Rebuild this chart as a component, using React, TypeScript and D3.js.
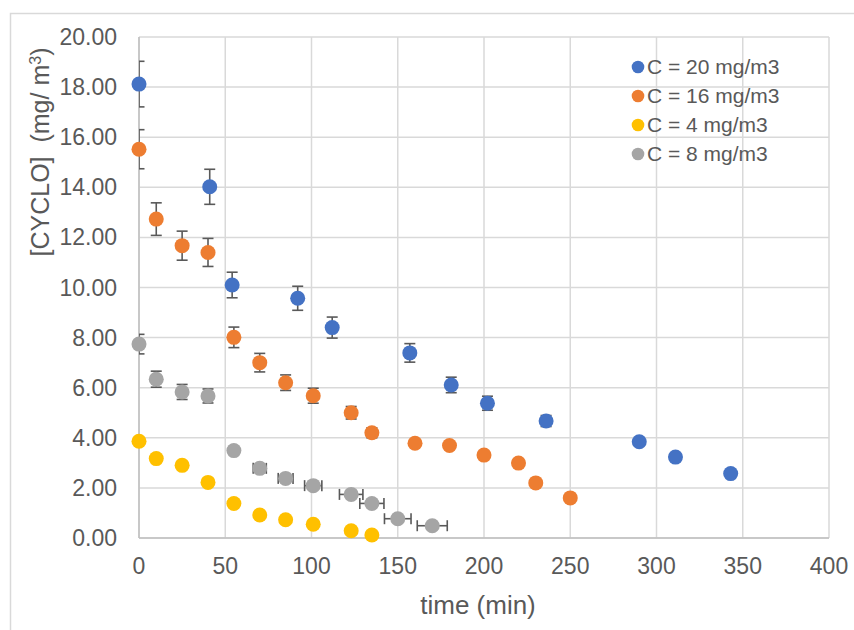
import React from "react";
import * as d3 from "d3";

const xTicks = [0, 50, 100, 150, 200, 250, 300, 350, 400];
const yTicks = [0, 2, 4, 6, 8, 10, 12, 14, 16, 18, 20];

const seriesNames = ["C = 20 mg/m3", "C = 16 mg/m3", "C = 4 mg/m3", "C = 8 mg/m3"];
const seriesColors = ["#4472C4", "#ED7D31", "#FFC000", "#A5A5A5"];

const blueX = [0, 41, 54, 92, 112, 157, 181, 202, 236, 290, 311, 343];
const blueY = [18.12, 14.02, 10.1, 9.57, 8.4, 7.39, 6.11, 5.38, 4.67, 3.84, 3.23, 2.57];
const blueYErr = [0.91, 0.7, 0.51, 0.48, 0.42, 0.37, 0.31, 0.28, 0.22, 0, 0, 0];
const blueXErr = [0, 0, 0, 0, 0, 0, 0, 0, 0, 0, 0, 0];

const orangeX = [0, 10, 25, 40, 55, 70, 85, 101, 123, 135, 160, 180, 200, 220, 230, 250];
const orangeY = [15.52, 12.73, 11.67, 11.4, 8.01, 7.0, 6.2, 5.68, 5.0, 4.2, 3.78, 3.69, 3.31, 2.99, 2.2, 1.6];
const orangeYErr = [0.78, 0.65, 0.58, 0.56, 0.41, 0.37, 0.31, 0.3, 0.25, 0.2, 0, 0, 0, 0, 0, 0];
const orangeXErr = [0, 0, 0, 0, 0, 0, 0, 0, 0, 0, 0, 0, 0, 0, 0, 0];

const yellowX = [0, 10, 25, 40, 55, 70, 85, 101, 123, 135];
const yellowY = [3.86, 3.17, 2.9, 2.22, 1.38, 0.92, 0.73, 0.55, 0.29, 0.12];
const yellowYErr = [0, 0, 0, 0, 0, 0, 0, 0, 0, 0];
const yellowXErr = [0, 0, 0, 0, 0, 0, 0, 0, 0, 0];

const grayX = [0, 10, 25, 40, 55, 70, 85, 101, 123, 135, 150, 170];
const grayY = [7.74, 6.34, 5.83, 5.67, 3.49, 2.78, 2.38, 2.09, 1.74, 1.38, 0.77, 0.49];
const grayYErr = [0.39, 0.32, 0.3, 0.28, 0, 0, 0, 0, 0, 0, 0, 0];
const grayXErr = [0, 0, 0, 0, 0, 3.8, 4.3, 5.0, 6.8, 7.0, 7.7, 8.7];

const series = [
  { xs: blueX, ys: blueY, ye: blueYErr, xe: blueXErr },
  { xs: orangeX, ys: orangeY, ye: orangeYErr, xe: orangeXErr },
  { xs: yellowX, ys: yellowY, ye: yellowYErr, xe: yellowXErr },
  { xs: grayX, ys: grayY, ye: grayYErr, xe: grayXErr },
];

const W = 854;
const H = 630;
const L = 139, R = 829, T = 37, B = 538;
const FONT = "'Liberation Sans', Arial, sans-serif";
const TXT = "#595959";

export default function App() {
  const x = d3.scaleLinear().domain([0, 400]).range([L, R]);
  const y = d3.scaleLinear().domain([0, 20]).range([B, T]);
  const cap = 5.5;
  const errColor = "#595959";

  return (
    <div style={{ position: "absolute", left: 0, top: 0 }}>
      <svg width={W} height={H} style={{ display: "block", background: "#fff" }}>
        <defs>
          <clipPath id="plotclip">
            <rect x={L} y={T - 10} width={R - L + 10} height={B - T + 20} />
          </clipPath>
        </defs>
        <rect x={10.5} y={13.5} width={W} height={H} fill="none" stroke="#d9d9d9" strokeWidth={1.5} />
        {/* gridlines */}
        {yTicks.map((t) => (
          <line key={"gy" + t} x1={L} x2={R} y1={y(t)} y2={y(t)} stroke="#d9d9d9" strokeWidth={1.5} />
        ))}
        {xTicks.map((t) => (
          <line key={"gx" + t} x1={x(t)} x2={x(t)} y1={T} y2={B} stroke="#d9d9d9" strokeWidth={1.5} />
        ))}
        <line x1={L} x2={L} y1={T} y2={B} stroke="#bfbfbf" strokeWidth={1.5} />
        <line x1={L} x2={R} y1={B} y2={B} stroke="#bfbfbf" strokeWidth={1.5} />
        {/* tick labels */}
        {yTicks.map((t) => (
          <text key={"ly" + t} x={117} y={y(t)} dy="0.35em" textAnchor="end" fontFamily={FONT} fontSize={23} fill={TXT}>
            {d3.format(".2f")(t)}
          </text>
        ))}
        {xTicks.map((t) => (
          <text key={"lx" + t} x={x(t)} y={566} dy="0.35em" textAnchor="middle" fontFamily={FONT} fontSize={23} fill={TXT}>
            {t}
          </text>
        ))}
        {/* axis titles */}
        <text x={478} y={605} dy="0.35em" textAnchor="middle" fontFamily={FONT} fontSize={26} fill={TXT}>
          time (min)
        </text>
        <text transform="translate(40,152) rotate(-90)" textAnchor="middle" dy="0.35em" fontFamily={FONT} fontSize={25} fill={TXT}>
          [CYCLO]{"\u00a0\u00a0"}(mg/ m
          <tspan baselineShift="super" fontSize={16}>3</tspan>)
        </text>
        {/* series */}
        {series.map((s, si) => (
          <g key={"s" + si}>
            <g clipPath="url(#plotclip)">
              {s.xs.map((xv, i) => {
                const cx = x(xv);
                const cy = y(s.ys[i]);
                const parts: JSX.Element[] = [];
                if (s.ye[i] > 0) {
                  const y1 = y(s.ys[i] + s.ye[i]);
                  const y2 = y(s.ys[i] - s.ye[i]);
                  parts.push(
                    <g key={"ey" + i} stroke={errColor} strokeWidth={1.6}>
                      <line x1={cx} x2={cx} y1={y1} y2={y2} />
                      <line x1={cx - cap} x2={cx + cap} y1={y1} y2={y1} />
                      <line x1={cx - cap} x2={cx + cap} y1={y2} y2={y2} />
                    </g>
                  );
                }
                if (s.xe[i] > 0) {
                  const x1 = x(xv - s.xe[i]);
                  const x2 = x(xv + s.xe[i]);
                  parts.push(
                    <g key={"ex" + i} stroke={errColor} strokeWidth={1.6}>
                      <line x1={x1} x2={x2} y1={cy} y2={cy} />
                      <line x1={x1} x2={x1} y1={cy - cap} y2={cy + cap} />
                      <line x1={x2} x2={x2} y1={cy - cap} y2={cy + cap} />
                    </g>
                  );
                }
                return <g key={"p" + i}>{parts}</g>;
              })}
            </g>
            {s.xs.map((xv, i) => (
              <circle key={"c" + i} cx={x(xv)} cy={y(s.ys[i])} r={7.5} fill={seriesColors[si]} />
            ))}
          </g>
        ))}
        {/* legend */}
        {seriesNames.map((n, i) => (
          <g key={"lg" + i} transform={`translate(638,${67 + i * 29})`}>
            <circle cx={0} cy={0} r={6.3} fill={seriesColors[i]} />
            <text x={9} y={0} dy="0.35em" fontFamily={FONT} fontSize={21} fill={TXT}>
              {n}
            </text>
          </g>
        ))}
      </svg>
    </div>
  );
}
